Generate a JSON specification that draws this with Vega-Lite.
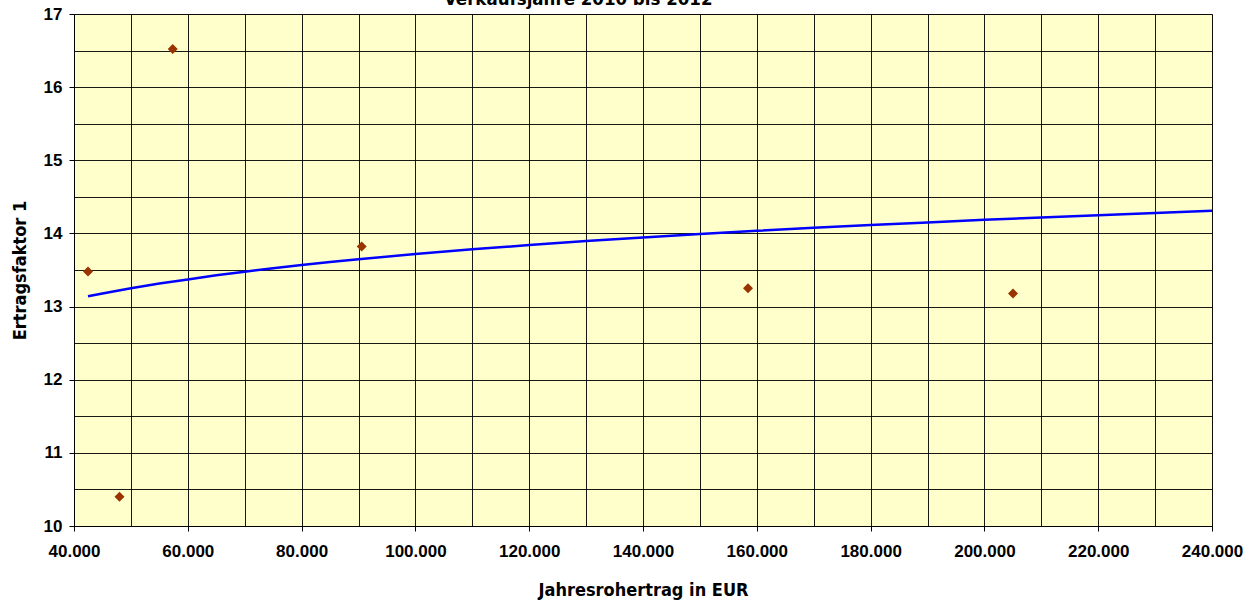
{
  "$schema": "https://vega.github.io/schema/vega-lite/v6.json",
  "autosize": "none",
  "width": 1138,
  "height": 512,
  "padding": {"left": 74, "top": 14, "right": 46, "bottom": 78},
  "background": "#ffffff",
  "title": {
    "text": "Verkaufsjahre 2010 bis 2012",
    "anchor": "start",
    "frame": "group",
    "dx": 370,
    "dy": 18,
    "offset": 0,
    "baseline": "alphabetic",
    "font": "DejaVu Sans Condensed, sans-serif",
    "fontSize": 18.5,
    "fontWeight": "bold",
    "color": "#000000"
  },
  "config": {
    "view": {"fill": "#FFFFCC", "stroke": "#888888", "strokeWidth": 1},
    "axis": {
      "labelFont": "Liberation Sans, Arial, sans-serif",
      "labelFontSize": 17,
      "labelFontWeight": "bold",
      "labelColor": "#000000",
      "titleFont": "DejaVu Sans Condensed, sans-serif",
      "titleFontSize": 18,
      "titleFontWeight": "bold",
      "titleColor": "#000000",
      "domainColor": "#000000",
      "tickColor": "#000000",
      "gridColor": "#000000",
      "gridOpacity": 0.9,
      "gridWidth": 1
    }
  },
  "datasets": {
    "punkte": [
      {"ertrag": 42460, "faktor": 13.48},
      {"ertrag": 48000, "faktor": 10.40},
      {"ertrag": 57350, "faktor": 16.52},
      {"ertrag": 90560, "faktor": 13.82},
      {"ertrag": 158450, "faktor": 13.25},
      {"ertrag": 205030, "faktor": 13.18}
    ],
    "trend": [
      {"ertrag": 42460, "faktor": 13.14},
      {"ertrag": 45000, "faktor": 13.18},
      {"ertrag": 50000, "faktor": 13.25},
      {"ertrag": 55000, "faktor": 13.315},
      {"ertrag": 60000, "faktor": 13.37},
      {"ertrag": 65000, "faktor": 13.427},
      {"ertrag": 70000, "faktor": 13.477},
      {"ertrag": 75000, "faktor": 13.524},
      {"ertrag": 80000, "faktor": 13.568},
      {"ertrag": 85000, "faktor": 13.609},
      {"ertrag": 90000, "faktor": 13.647},
      {"ertrag": 100000, "faktor": 13.718},
      {"ertrag": 110000, "faktor": 13.783},
      {"ertrag": 120000, "faktor": 13.841},
      {"ertrag": 130000, "faktor": 13.895},
      {"ertrag": 140000, "faktor": 13.945},
      {"ertrag": 150000, "faktor": 13.992},
      {"ertrag": 160000, "faktor": 14.035},
      {"ertrag": 170000, "faktor": 14.076},
      {"ertrag": 180000, "faktor": 14.115},
      {"ertrag": 190000, "faktor": 14.151},
      {"ertrag": 200000, "faktor": 14.186},
      {"ertrag": 210000, "faktor": 14.219},
      {"ertrag": 220000, "faktor": 14.25},
      {"ertrag": 230000, "faktor": 14.28},
      {"ertrag": 240000, "faktor": 14.309}
    ]
  },
  "resolve": {"axis": {"x": "independent", "y": "independent"}},
  "layer": [
    {
      "data": {"name": "punkte"},
      "mark": {"type": "point", "opacity": 0},
      "encoding": {
        "x": {
          "field": "ertrag", "type": "quantitative",
          "scale": {"domain": [40000, 240000], "nice": false, "zero": false},
          "axis": {
            "orient": "bottom",
            "values": [40000, 50000, 60000, 70000, 80000, 90000, 100000, 110000, 120000, 130000, 140000, 150000, 160000, 170000, 180000, 190000, 200000, 210000, 220000, 230000, 240000],
            "grid": true, "labels": false, "ticks": false, "domain": false, "title": null
          }
        },
        "y": {
          "field": "faktor", "type": "quantitative",
          "scale": {"domain": [10, 17], "nice": false, "zero": false},
          "axis": {
            "orient": "left",
            "values": [10, 10.5, 11, 11.5, 12, 12.5, 13, 13.5, 14, 14.5, 15, 15.5, 16, 16.5, 17],
            "grid": true, "labels": false, "ticks": false, "domain": false, "title": null
          }
        }
      }
    },
    {
      "data": {"name": "trend"},
      "mark": {"type": "line", "color": "#0000FF", "strokeWidth": 2.5, "clip": true},
      "encoding": {
        "x": {
          "field": "ertrag", "type": "quantitative",
          "axis": {
            "orient": "bottom",
            "values": [40000, 60000, 80000, 100000, 120000, 140000, 160000, 180000, 200000, 220000, 240000],
            "format": ",.0f",
            "labelExpr": "replace(datum.label, /,/g, '.')",
            "grid": false, "tickSize": 5, "labelPadding": 12,
            "labelBaseline": "top",
            "labelFlush": false, "labelOverlap": false,
            "title": "Jahresrohertrag in EUR",
            "titleX": 569, "titleY": 69, "titleBaseline": "alphabetic", "titleAnchor": null
          }
        },
        "y": {
          "field": "faktor", "type": "quantitative",
          "axis": {
            "orient": "left",
            "values": [10, 11, 12, 13, 14, 15, 16, 17],
            "grid": false, "tickSize": 5, "labelPadding": 7,
            "labelFlush": false, "labelOverlap": false,
            "title": "Ertragsfaktor 1",
            "titleX": -54, "titleY": 256, "titleAngle": -90,
            "titleBaseline": "middle", "titleAlign": "center"
          }
        }
      }
    },
    {
      "data": {"name": "punkte"},
      "mark": {"type": "point", "shape": "diamond", "filled": true, "color": "#993300", "opacity": 1, "size": 100},
      "encoding": {
        "x": {"field": "ertrag", "type": "quantitative", "axis": null},
        "y": {"field": "faktor", "type": "quantitative", "axis": null}
      }
    }
  ]
}
